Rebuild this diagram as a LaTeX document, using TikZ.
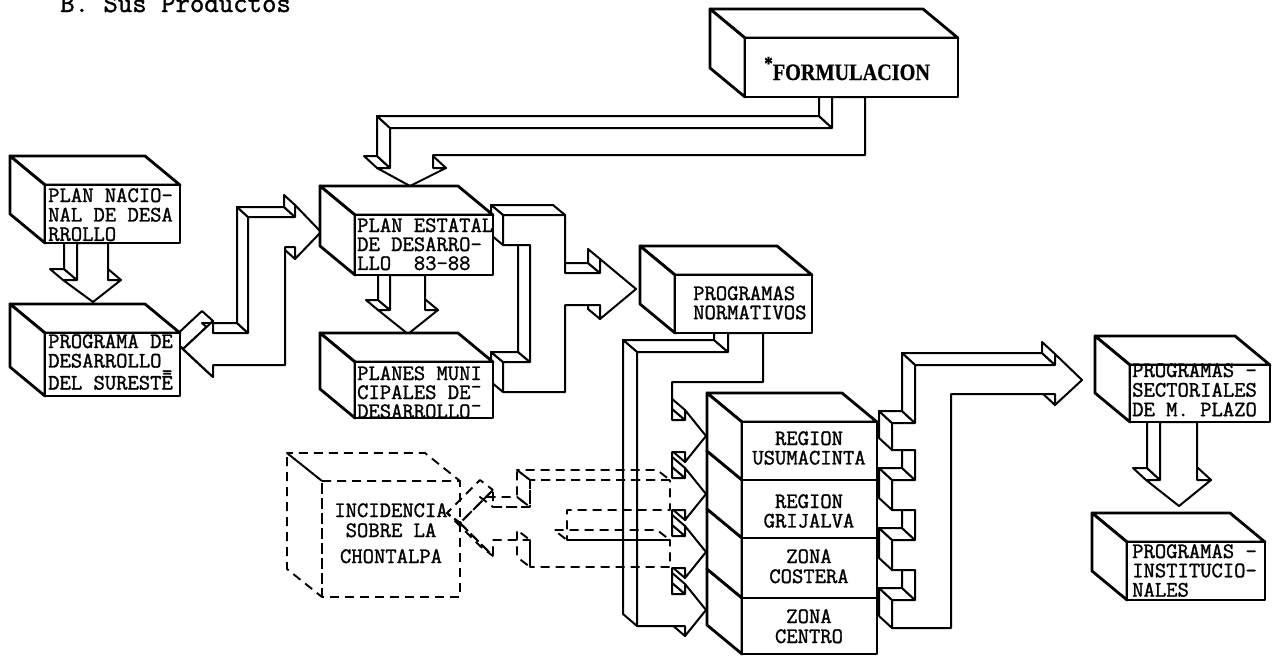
\documentclass[tikz,border=0pt]{standalone}
\usepackage{fontspec}
\newfontfamily\formfont{Liberation Serif}[FakeStretch=0.86,FakeBold=0.6]
\newfontfamily\tyfont{Latin Modern Mono}[FakeBold=1.4]
\newcommand\boxfont{\tyfont\fontsize{22}{19}\selectfont}
\newcommand\lefttext[1]{\begin{tabular}[t]{@{}l@{}}#1\end{tabular}}
\newcommand\centertext[1]{\begin{tabular}[t]{@{}c@{}}#1\end{tabular}}
% Extruded solid: front polygon (closed list x/y) with its visible side faces,
% the back face being shifted by (#2,#3).
\newcommand\extsolid[4][]{%
  \gdef\solarea{0}%
  \foreach \x/\y [count=\i, remember=\x as \px (initially 0), remember=\y as \py (initially 0)] in {#4}{%
    \ifnum\i>1 \xdef\solarea{\fpeval{\solarea+(\px)*(\y)-(\x)*(\py)}}\fi}%
  \xdef\solsign{\fpeval{sign(\solarea)}}%
  \foreach \x/\y [count=\i, remember=\x as \px (initially 0), remember=\y as \py (initially 0)] in {#4}{%
    \ifnum\i>1
      \ifdim\fpeval{sign(\solsign*((\y-(\py))*(#2)-(\x-(\px))*(#3)))}pt>0pt
        \edef\qxa{\fpeval{\x+(#2)}}\edef\qya{\fpeval{\y+(#3)}}%
        \edef\qxb{\fpeval{\px+(#2)}}\edef\qyb{\fpeval{\py+(#3)}}%
        \filldraw[solidface,#1] (\px,\py) -- (\x,\y) -- (\qxa,\qya) -- (\qxb,\qyb) -- cycle;
      \fi
    \fi}%
  \gdef\solpath{}%
  \foreach \x/\y [count=\i] in {#4}{%
    \ifnum\i=1 \xdef\solpath{(\x,\y)}\else\xdef\solpath{\solpath -- (\x,\y)}\fi}%
  \filldraw[solidface,#1] \solpath -- cycle;
}
\newcommand\tdbox[4]{\extsolid[boxline]{-35}{-29}{#1/#2,#3/#2,#3/#4,#1/#4,#1/#2}}
\begin{document}
\begin{tikzpicture}[x=1pt,y=-1pt,
  solidface/.style={fill=white,draw=black,line join=round},
  arrowline/.style={line width=2pt},
  boxline/.style={line width=2.8pt},
  dashline/.style={line width=1.9pt,dash pattern=on 9pt off 6pt,fill=none},
  lbl/.style={inner sep=0pt,font=\boxfont}]
\fill[white] (0,0) rectangle (1280,656);
\useasboundingbox (0,0) rectangle (1280,656);

% title
\node[inner sep=0pt,anchor=base west,font=\tyfont\fontsize{28}{28}\selectfont] (ttl) at (60,12) {B. Sus Productos};

% ---- block arrows ----
% Plan Nacional -> Programa del Sureste
\extsolid[arrowline]{-13}{-11}{77/243,108/243,108/280,121/280,93/302,63/280,77/280,77/243}
% Plan Estatal -> Planes Municipales
\extsolid[arrowline]{-12}{-10}{390/275,425/275,425/310,438/310,408/334,378/310,390/310,390/275}
% Programa del Sureste <-> Plan Estatal
\extsolid[arrowline]{-11}{-10}{183/349,213/321,213/333,248/333,248/217,295/217,295/205,321/232,295/259,295/247,285/247,285/365,213/365,213/377,183/349}
% Formulacion -> Plan Estatal
\extsolid[arrowline]{-13}{-12}{832/97,865/97,865/155,433/155,433/168,446/168,410/186,377/168,390/168,390/128,832/128,832/97}
% Plan Estatal / Planes Municipales -> Programas Normativos
\extsolid[arrowline]{-12}{-10}{503/215,565/215,565/273,600/273,600/259,636/289,600/319,600/305,565/305,565/392,503/392,503/362,530/362,530/245,503/245,503/215}
% Programas Normativos -> regions (comb)
\extsolid[arrowline]{-14}{-12}{637/352,728/352,728/333,763/333,763/382,672/382,672/420,685/420,685/410,706/436,685/462,685/452,672/452,672/478,685/478,685/468,706/494,685/520,685/510,672/510,672/536,685/536,685/526,706/552,685/578,685/568,672/568,672/594,685/594,685/584,706/610,685/636,685/626,637/626,637/352}
% regions -> Programas Sectoriales (collector)
\extsolid[arrowline]{-13}{-12}{915/365,1055/365,1055/354,1082/380,1055/405,1055/394,951/394,951/628,892/628,892/600,915/600,915/570,892/570,892/540,915/540,915/510,892/510,892/480,915/480,915/450,892/450,892/423,915/423,915/365}
% Sectoriales -> Institucionales
\extsolid[arrowline]{-13}{-12}{1160/422,1197/422,1197/480,1211/480,1179/506,1146/480,1160/480,1160/422}

% ---- dashed: incidence on La Chontalpa ----
\extsolid[dashline]{-13}{-10}{670/480,530/480,530/507,493/507,493/490,460/523,493/556,493/540,530/540,530/567,670/567,670/540,567/540,567/510,670/510,670/480}
\extsolid[dashline]{-35}{-28}{322/481,460/481,460/597,322/597,322/481}

% ---- boxes ----
\tdbox{45}{185}{180}{243}
\tdbox{45}{333}{180}{396}
\tdbox{355}{215}{493}{275}
\tdbox{355}{362}{493}{418}
\tdbox{745}{38}{958}{97}
\tdbox{675}{275}{812}{333}
\tdbox{742}{598}{877}{654}
\tdbox{742}{538}{877}{598}
\tdbox{742}{480}{877}{538}
\tdbox{742}{422}{877}{480}
\tdbox{1130}{365}{1270}{422}
\tdbox{1127}{542}{1265}{600}

% ---- labels ----
\node[lbl,anchor=base west] (tpn) at (48,202) {\lefttext{PLAN NACIO-\\NAL DE DESA\\RROLLO}};
\node[lbl,anchor=base west] (tpd) at (48,348) {\lefttext{PROGRAMA DE\\DESARROLLO\_\\DEL SURESTĒ}};
\node[lbl,anchor=base west,font=\tyfont\fontsize{22}{17.5}\selectfont] (tpe) at (357,232) {\lefttext{PLAN ESTATAL\\DE DESARRO-\\LLO~~83-88}};
\node[lbl,anchor=base west,font=\tyfont\fontsize{22}{17.5}\selectfont] (tpm) at (357,380) {\lefttext{PLANES MUNI\\CIPALES DE¯\\DESARROLLO¯}};
\node[inner sep=0pt,anchor=base west] (tfo) at (764,80) {\formfont\bfseries\fontsize{23.5}{23.5}\selectfont\raisebox{10pt}{\fontsize{20}{20}\selectfont *}FORMULACION};
\node[lbl,anchor=base west,font=\tyfont\fontsize{22}{18}\selectfont] (tno) at (693,300) {\lefttext{PROGRAMAS\\NORMATIVOS}};
\node[lbl,anchor=base] (tus) at (809,445) {\centertext{REGION\\USUMACINTA}};
\node[lbl,anchor=base] (tgr) at (809,508) {\centertext{REGION\\GRIJALVA}};
\node[lbl,anchor=base,font=\tyfont\fontsize{22}{20}\selectfont] (tco) at (809,563) {\centertext{ZONA\\COSTERA}};
\node[lbl,anchor=base,font=\tyfont\fontsize{22}{20}\selectfont] (tce) at (809,623) {\centertext{ZONA\\CENTRO}};
\node[lbl,anchor=base west,font=\tyfont\fontsize{22}{19.5}\selectfont] (tse) at (1132,377) {\lefttext{PROGRAMAS -\\SECTORIALES\\DE M. PLAZO}};
\node[lbl,anchor=base west,font=\tyfont\fontsize{22}{18.5}\selectfont] (tin) at (1132,558) {\lefttext{PROGRAMAS -\\INSTITUCIO-\\NALES}};
\node[lbl,anchor=base,font=\tyfont\fontsize{22}{20}\selectfont] (tic) at (391,517) {\centertext{INCIDENCIA\\SOBRE LA\\[6pt]CHONTALPA}};
\end{tikzpicture}
\end{document}
